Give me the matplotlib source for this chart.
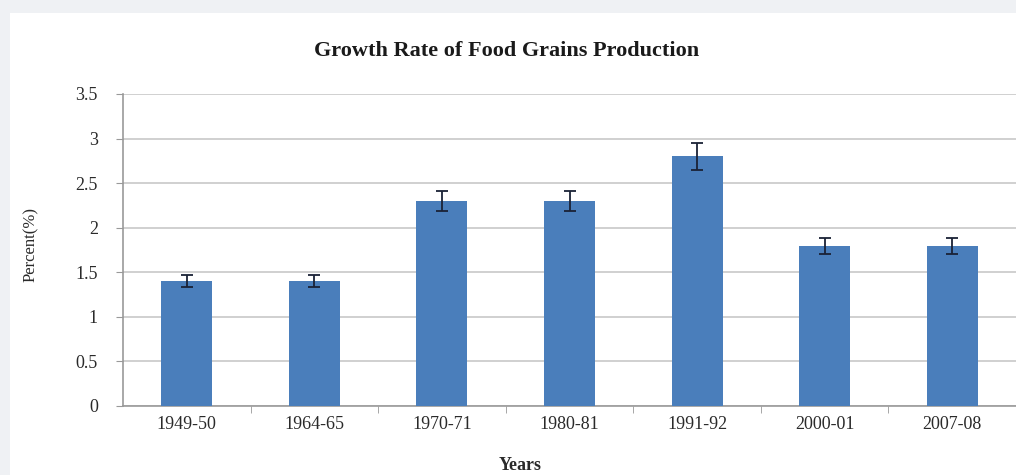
import matplotlib
matplotlib.use("Agg")
import matplotlib.pyplot as plt
from matplotlib.patches import Rectangle

# data
years = ["1949-50", "1964-65", "1970-71", "1980-81", "1991-92", "2000-01", "2007-08"]
growth = [1.4, 1.4, 2.3, 2.3, 2.8, 1.8, 1.8]
errors = [0.07, 0.07, 0.11, 0.11, 0.15, 0.09, 0.09]
y_ticks = [0, 0.5, 1, 1.5, 2, 2.5, 3, 3.5]
y_labels = ["0", "0.5", "1", "1.5", "2", "2.5", "3", "3.5"]

plt.rcParams["font.family"] = ["Liberation Serif", "DejaVu Serif"]

fig = plt.figure(figsize=(10.16, 4.75), dpi=100)
fig.patch.set_facecolor("#eff1f4")
# white panel behind the chart
fig.add_artist(Rectangle((10 / 1016, 0), 1, 1 - 13 / 475,
                         transform=fig.transFigure, facecolor="white",
                         edgecolor="none", zorder=-5))

ax = fig.add_axes([123 / 1016, 1 - 406 / 475, 1 - 123 / 1016, (406 - 94) / 475])
ax.set_facecolor("none")

x = range(len(years))
ax.bar(x, growth, width=0.4, color="#4a7ebb", zorder=3,
       yerr=errors, error_kw=dict(ecolor="#1a2236", elinewidth=1.3,
                                  capsize=4, capthick=1.3))

ax.set_xlim(-0.5, len(years) - 0.5)
ax.set_ylim(0, 3.5)
ax.set_yticks(y_ticks)
ax.set_yticklabels(y_labels, fontsize=13, color="#2a2a2a")
ax.set_xticks(list(x))
ax.set_xticklabels(years, fontsize=13, color="#2a2a2a")
ax.tick_params(axis="x", length=0, pad=7)
ax.tick_params(axis="y", length=5, color="#999999", pad=13)
ax.set_xticks([i + 0.5 for i in range(len(years) - 1)], minor=True)
ax.tick_params(axis="x", which="minor", length=5, color="#999999")

ax.grid(axis="y", color="#c8c8c8", linewidth=1.2, zorder=0)
for side in ["top", "right"]:
    ax.spines[side].set_visible(False)
for side in ["left", "bottom"]:
    ax.spines[side].set_color("#999999")
    ax.spines[side].set_linewidth(1.2)

fig.text(507 / 1016, 1 - 51 / 475, "Growth Rate of Food Grains Production",
         ha="center", va="center", fontsize=16, fontweight="bold",
         color="#1a1a1a")
fig.text(31 / 1016, 1 - 245 / 475, "Percent(%)", rotation=90,
         ha="center", va="center", fontsize=12, color="#2a2a2a")
fig.text(520 / 1016, 1 - 465 / 475, "Years", ha="center", va="center",
         fontsize=13, fontweight="bold", color="#2a2a2a")

fig.savefig("out.png", dpi=100)
